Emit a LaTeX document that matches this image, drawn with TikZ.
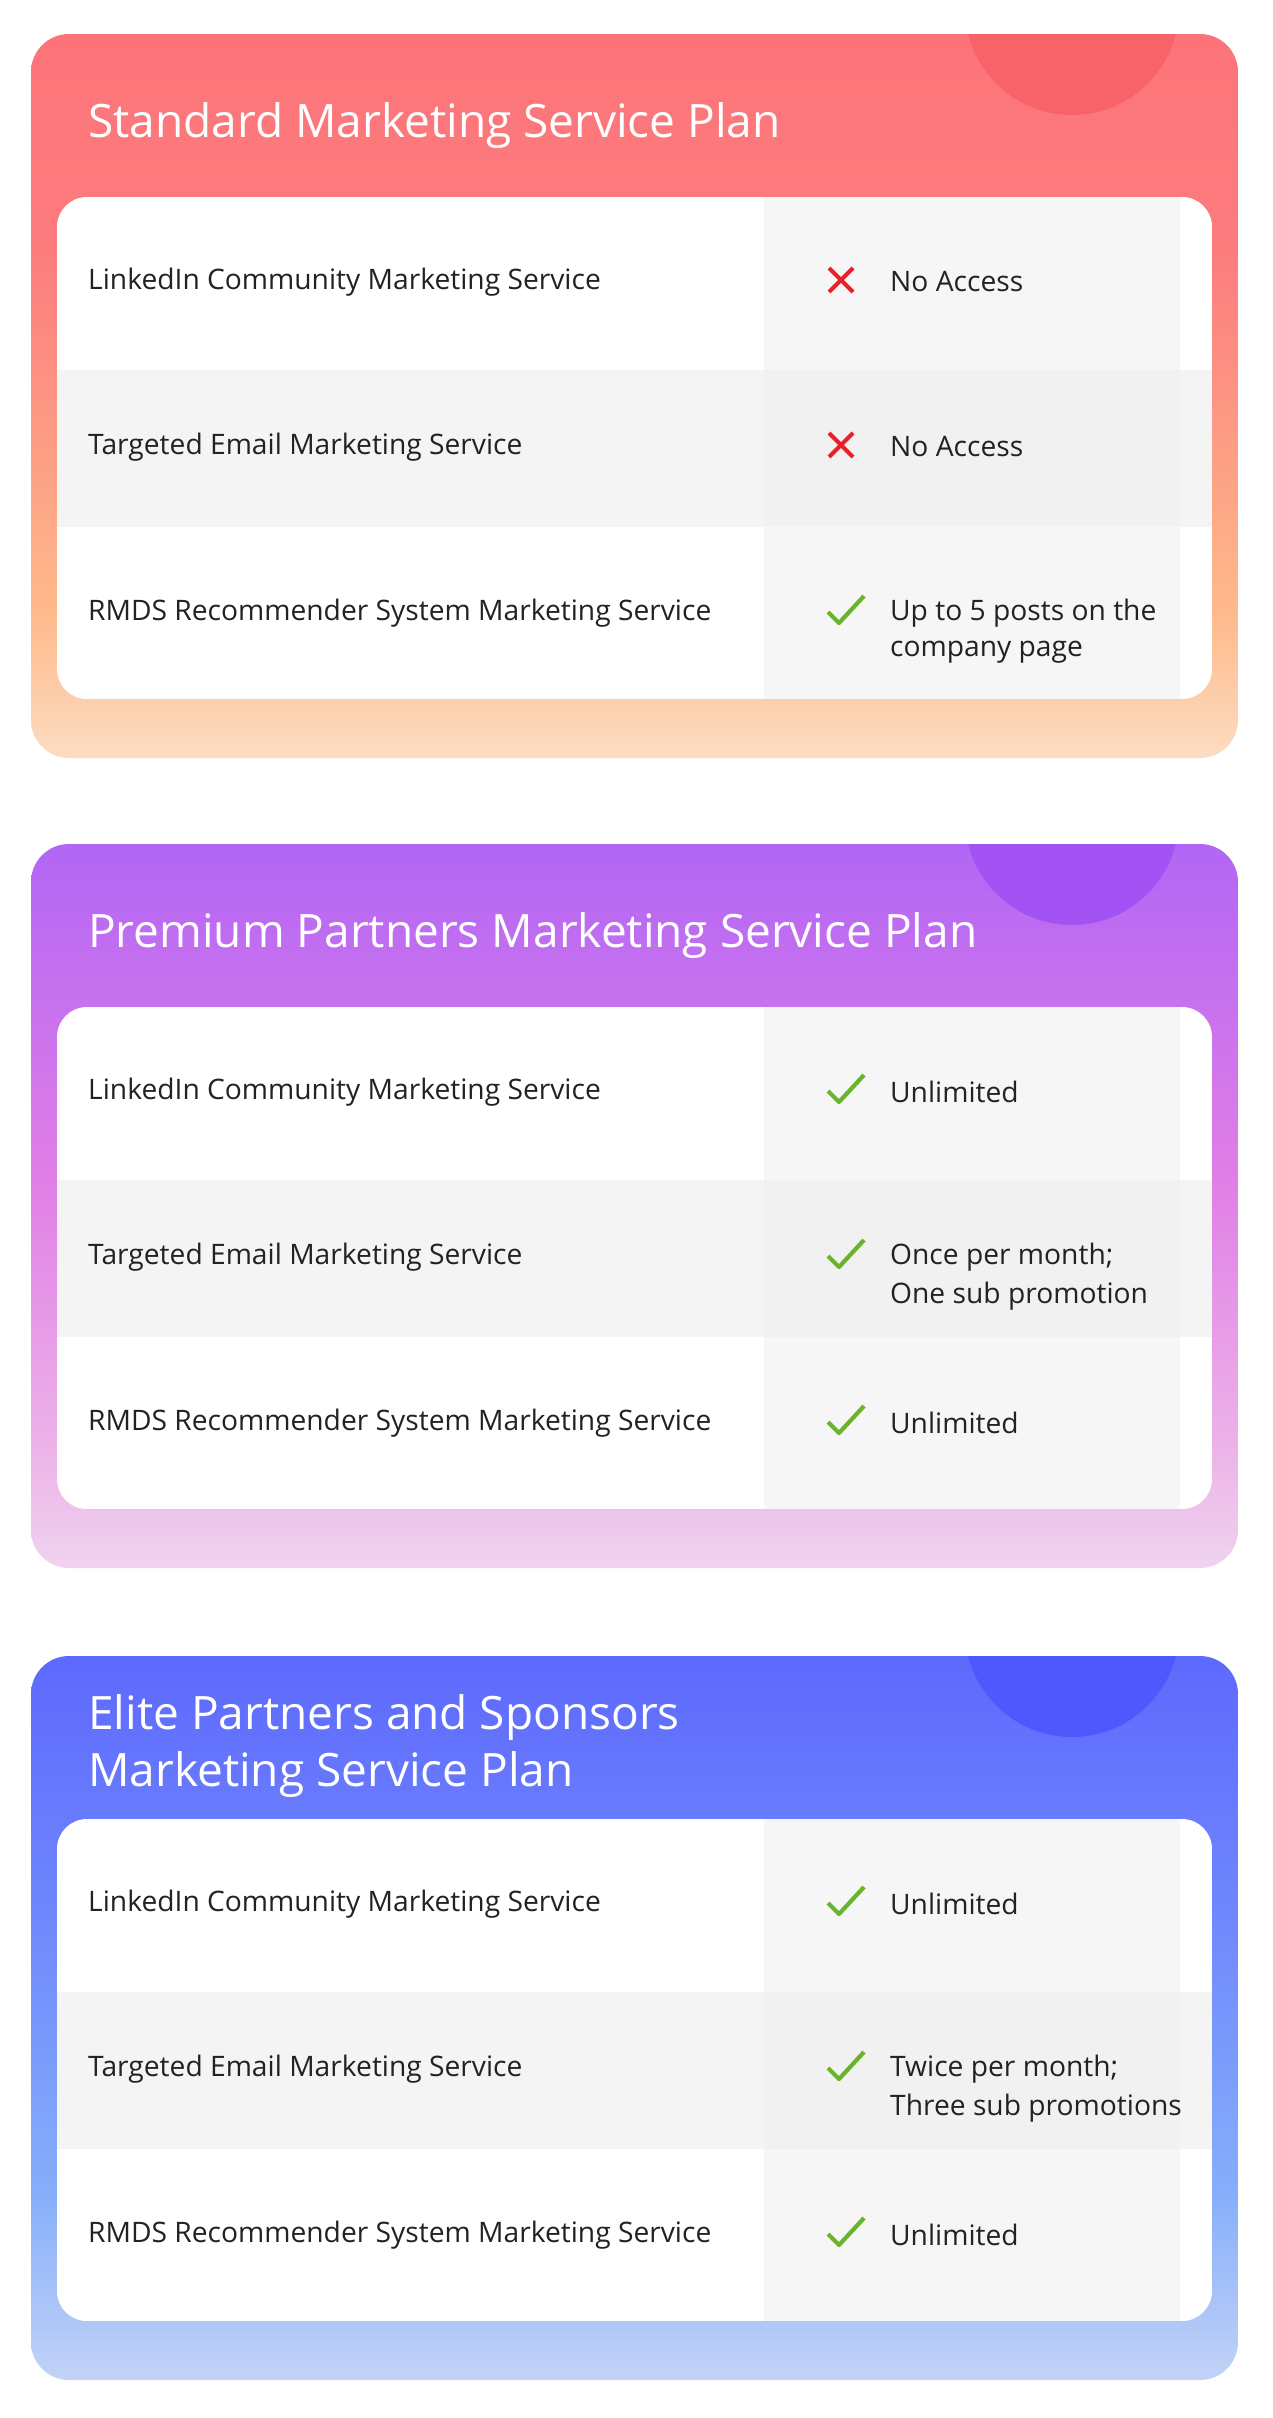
\documentclass[tikz,border=0pt]{standalone}
\usepackage{fontspec}
\setmainfont{Open Sans}
\definecolor{ctA}{HTML}{FC7479}\definecolor{cmA1}{HTML}{FC7C7E}\definecolor{cmA2}{HTML}{FEBA8B}\definecolor{cbA}{HTML}{FDDCC2}\definecolor{ccA}{HTML}{F8636A}
\definecolor{ctB}{HTML}{B266F5}\definecolor{cmB1}{HTML}{E07EE6}\definecolor{cmB2}{HTML}{ECB4E8}\definecolor{cbB}{HTML}{F0D3EF}\definecolor{ccB}{HTML}{A352F3}
\definecolor{ctC}{HTML}{5E69FD}\definecolor{cmC1}{HTML}{6C82FD}\definecolor{cmC2}{HTML}{86AEFA}\definecolor{cbC}{HTML}{C3D3F6}\definecolor{ccC}{HTML}{4F58FD}
\definecolor{rowgray}{HTML}{F4F4F4}\definecolor{colgray}{HTML}{F6F6F6}\definecolor{colgray2}{HTML}{F1F1F1}
\definecolor{crossred}{HTML}{E8202A}\definecolor{checkgreen}{HTML}{6AB42D}\definecolor{txt}{HTML}{222222}
\pgfdeclareverticalshading{shA}{100bp}{color(0bp)=(cbA); color(25bp)=(cbA); color(35bp)=(cmA2); color(60bp)=(cmA1); color(75bp)=(ctA); color(100bp)=(ctA)}
\pgfdeclareverticalshading{shB}{100bp}{color(0bp)=(cbB); color(25bp)=(cbB); color(33bp)=(cmB2); color(52bp)=(cmB1); color(75bp)=(ctB); color(100bp)=(ctB)}
\pgfdeclareverticalshading{shC}{100bp}{color(0bp)=(cbC); color(25bp)=(cbC); color(38bp)=(cmC2); color(60bp)=(cmC1); color(75bp)=(ctC); color(100bp)=(ctC)}
\tikzset{
  titletext/.style={anchor=west,text=white,font=\fontsize{46}{52}\selectfont,inner sep=0pt},
  rowtext/.style={anchor=west,text=txt,font=\fontsize{28.2}{33}\selectfont,inner sep=0pt},
  crossmark/.style={draw=crossred,line width=4pt},
  checkmark/.style={draw=checkgreen,line width=4.2pt,line join=round}
}
\newcommand{\mycross}[2]{\draw[crossmark] (#1-12,#2-12) -- (#1+12,#2+12) (#1-12,#2+12) -- (#1+12,#2-12);}
\newcommand{\mycheck}[2]{\draw[checkmark] (#1-17,#2+1) -- (#1-6,#2+12) -- (#1+19,#2-15);}
\newcommand{\cardbase}[3]{%
  \begin{scope}
    \clip[rounded corners=38pt] (31,0) rectangle (1238,724);
    \shade[shading=#1] (31,0) rectangle (1238,724);
    \fill[#2] (1072,-26) circle (107);
  \end{scope}
  \begin{scope}
    \clip[rounded corners=30pt] (57,163) rectangle (1212,665);
    \fill[white] (57,163) rectangle (1212,665);
    \fill[rowgray] (57,336) rectangle (1212,493);
    \fill[colgray] (764,163) rectangle (1180,665);
    \fill[colgray2] (764,336) rectangle (1180,493);
  \end{scope}
  \node[rowtext] (#3r1) at (88,248) {LinkedIn Community Marketing Service};
  \node[rowtext] (#3r2) at (88,413) {Targeted Email Marketing Service};
  \node[rowtext] (#3r3) at (88,579) {RMDS Recommender System Marketing Service};
}
\begin{document}
\begin{tikzpicture}[x=1pt,y=-1pt]
\useasboundingbox (0,0) rectangle (1272,2418);
\fill[white] (0,0) rectangle (1272,2418);
\begin{scope}[yshift=-34pt]
\cardbase{shA}{ccA}{a}
\node[titletext] (at) at (88,92) {Standard Marketing Service Plan};
\mycross{841}{246}\node[rowtext] (av1) at (890,248) {No Access};
\mycross{841}{411}\node[rowtext] (av2) at (890,413) {No Access};
\mycheck{845}{577}\node[rowtext] (av3) at (890,579) {Up to 5 posts on the};
\node[rowtext] (av3b) at (890,618) {company page};
\end{scope}
\begin{scope}[yshift=-844pt]
\cardbase{shB}{ccB}{b}
\node[titletext] (bt) at (88,92) {Premium Partners Marketing Service Plan};
\mycheck{845}{246}\node[rowtext] (bv1) at (890,248) {Unlimited};
\mycheck{845}{411}\node[rowtext] (bv2) at (890,413) {Once per month;};
\node[rowtext] (bv2b) at (890,452) {One sub promotion};
\mycheck{845}{577}\node[rowtext] (bv3) at (890,579) {Unlimited};
\end{scope}
\begin{scope}[yshift=-1656pt]
\cardbase{shC}{ccC}{c}
\node[titletext] (ct1) at (88,62) {Elite Partners and Sponsors};
\node[titletext] (ct2) at (88,119) {Marketing Service Plan};
\mycheck{845}{246}\node[rowtext] (cv1) at (890,248) {Unlimited};
\mycheck{845}{411}\node[rowtext] (cv2) at (890,413) {Twice per month;};
\node[rowtext] (cv2b) at (890,452) {Three sub promotions};
\mycheck{845}{577}\node[rowtext] (cv3) at (890,579) {Unlimited};
\end{scope}
\end{tikzpicture}
\end{document}
